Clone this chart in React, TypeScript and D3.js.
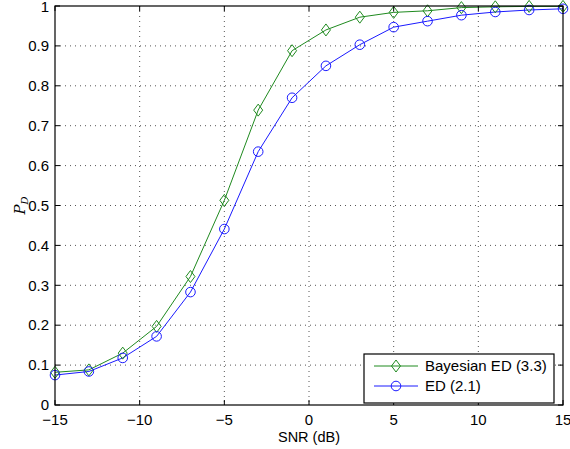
import React from 'react';
import * as d3 from 'd3';

const snr = [-15, -13, -11, -9, -7, -5, -3, -1, 1, 3, 5, 7, 9, 11, 13, 15];
const bayesianED = [0.082, 0.088, 0.13, 0.197, 0.322, 0.513, 0.739, 0.888, 0.94, 0.972, 0.984, 0.988, 0.996, 0.998, 0.999, 0.999];
const energyED = [0.075, 0.084, 0.118, 0.172, 0.283, 0.441, 0.635, 0.77, 0.85, 0.903, 0.947, 0.962, 0.977, 0.985, 0.99, 0.993];
const xTicks = [-15, -10, -5, 0, 5, 10, 15];
const yTicks = [0, 0.1, 0.2, 0.3, 0.4, 0.5, 0.6, 0.7, 0.8, 0.9, 1];
const legendLabels = ['Bayesian ED (3.3)', 'ED (2.1)'];

const GREEN = '#1f8a1f';
const BLUE = '#1a1aff';

const margin = { top: 6, right: 7, bottom: 44, left: 55 };
const W = 570, H = 449;
const iw = W - margin.left - margin.right;
const ih = H - margin.top - margin.bottom;

const fmt = (v: number) => (v < 0 ? '\u2212' + Math.abs(v) : String(v));

function Diamond({ x, y, color }: { x: number; y: number; color: string }) {
  const w = 4.5, h = 6;
  return <path d={`M${x},${y - h}L${x + w},${y}L${x},${y + h}L${x - w},${y}Z`} fill="none" stroke={color} strokeWidth={1} />;
}

function Circle({ x, y, color }: { x: number; y: number; color: string }) {
  return <circle cx={x} cy={y} r={4.8} fill="none" stroke={color} strokeWidth={1} />;
}

export default function App() {
  const x = d3.scaleLinear().domain([-15, 15]).range([0, iw]);
  const y = d3.scaleLinear().domain([0, 1]).range([ih, 0]);
  const line = d3.line<number>().x((_, i) => x(snr[i])).y(d => y(d));
  const font = 'Liberation Sans, Arial, Helvetica, sans-serif';

  return (
    <svg width={W} height={H} style={{ position: 'absolute', left: 0, top: 0 }}>
      <rect width={W} height={H} fill="#fff" />
      <g transform={`translate(${margin.left},${margin.top})`}>
        {/* grid */}
        {xTicks.slice(1, -1).map(t => (
          <line key={'gx' + t} x1={x(t)} x2={x(t)} y1={0} y2={ih} stroke="#555" strokeWidth={1} strokeDasharray="1,4" />
        ))}
        {yTicks.slice(1, -1).map(t => (
          <line key={'gy' + t} x1={0} x2={iw} y1={y(t)} y2={y(t)} stroke="#555" strokeWidth={1} strokeDasharray="1,4" />
        ))}
        {/* series */}
        <path d={line(bayesianED) || ''} fill="none" stroke={GREEN} strokeWidth={1} />
        <path d={line(energyED) || ''} fill="none" stroke={BLUE} strokeWidth={1} />
        {bayesianED.map((d, i) => <Diamond key={'b' + i} x={x(snr[i])} y={y(d)} color={GREEN} />)}
        {energyED.map((d, i) => <Circle key={'e' + i} x={x(snr[i])} y={y(d)} color={BLUE} />)}
        {/* box and ticks */}
        <rect x={0} y={0} width={iw} height={ih} fill="none" stroke="#000" strokeWidth={1.2} />
        {xTicks.map(t => (
          <g key={'tx' + t}>
            <line x1={x(t)} x2={x(t)} y1={ih} y2={ih - 5} stroke="#000" />
            <line x1={x(t)} x2={x(t)} y1={0} y2={5} stroke="#000" />
            <text x={x(t)} y={ih + 20} textAnchor="middle" fontSize={15} fontFamily={font}>{fmt(t)}</text>
          </g>
        ))}
        {yTicks.map(t => (
          <g key={'ty' + t}>
            <line x1={0} x2={5} y1={y(t)} y2={y(t)} stroke="#000" />
            <line x1={iw} x2={iw - 5} y1={y(t)} y2={y(t)} stroke="#000" />
            <text x={-6} y={Math.max(y(t), 0.5)} dy="0.35em" textAnchor="end" fontSize={15} fontFamily={font}>{fmt(t)}</text>
          </g>
        ))}
        <text x={iw / 2} y={ih + 37} textAnchor="middle" fontSize={14.5} fontFamily={font}>SNR (dB)</text>
        <text transform={`translate(-30,${ih / 2}) rotate(-90)`} textAnchor="middle" fontSize={15} fontFamily="DejaVu Serif, serif" fontStyle="italic">
          P<tspan fontSize={10} dy={3}>D</tspan>
        </text>
        {/* legend */}
        <g transform={`translate(${x(15) - 199},${ih - 51})`}>
          <rect x={0} y={0} width={190} height={49} fill="#fff" stroke="#000" strokeWidth={1.2} />
          {legendLabels.map((lab, i) => {
            const cy = 12 + i * 20;
            const col = i === 0 ? GREEN : BLUE;
            return (
              <g key={lab}>
                <line x1={10} x2={54} y1={cy} y2={cy} stroke={col} />
                {i === 0 ? <Diamond x={32} y={cy} color={col} /> : <Circle x={32} y={cy} color={col} />}
                <text x={61} y={cy} dy="0.35em" fontSize={15} fontFamily={font}>{lab}</text>
              </g>
            );
          })}
        </g>
      </g>
    </svg>
  );
}
